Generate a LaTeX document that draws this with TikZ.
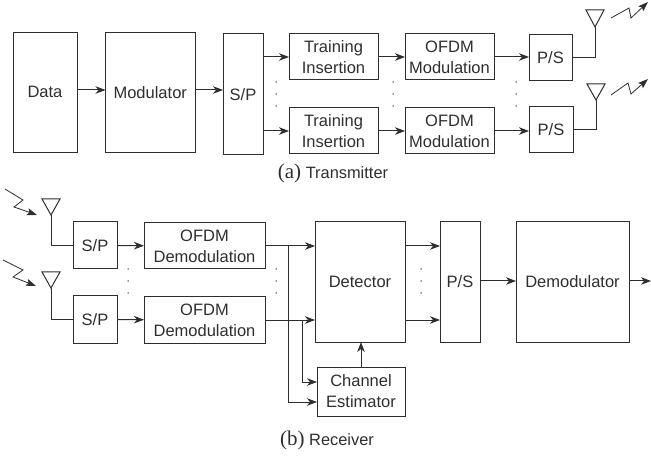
\documentclass[tikz,border=0pt]{standalone}
\usepackage{fontspec}
\setmainfont{Liberation Sans}
\newfontfamily\capserif{Liberation Serif}
\usetikzlibrary{arrows.meta,calc}
\definecolor{ink}{HTML}{2E2E2E}
\newcommand{\bx}[6]{\node[blockbox,minimum width=#4pt-#2pt,minimum height=#5pt-#3pt] (#1) at ({(#2+#4)/2},{(#3+#5)/2}) {#6};}
\tikzset{
  blockbox/.style={draw=ink,line width=1pt,inner sep=0pt,outer sep=0pt,align=center,text=ink,font=\fontsize{16.5}{21}\selectfont},
  conn/.style={draw=ink,line width=1pt,-{Stealth[length=10pt,width=7.5pt,inset=3pt]}},
  wire/.style={draw=ink,line width=1pt},
  antenna/.style={draw=ink,line width=1pt,line join=miter},
  bolt/.style={draw=ink,line width=0.8pt,-{Stealth[length=10pt,width=7pt,inset=2pt]}},
  dotmark/.style={circle,fill=ink,inner sep=0pt,minimum size=1.5pt},
  captext/.style={inner sep=0pt,text=ink,font=\fontsize{16.4}{18}\selectfont}
}
\begin{document}
\begin{tikzpicture}[x=1pt,y=-1pt]
\useasboundingbox (0,0) rectangle (651,457);
% transmitter
\bx{data}{13}{33}{77}{153}{\raisebox{1.5pt}{Data}}
\bx{mod}{105.5}{33}{195}{153}{\raisebox{1.5pt}{Modulator}}
\bx{sps}{223}{34}{263}{155}{S/P}
\bx{tia}{289}{34}{378}{80}{Training\\Insertion}
\bx{tib}{289}{108}{378}{154}{Training\\Insertion}
\bx{oma}{405}{34}{494}{80}{OFDM\\Modulation}
\bx{omb}{405}{108}{494}{154}{OFDM\\Modulation}
\bx{psa}{529}{35}{572}{81}{P/S}
\bx{psb}{529}{107}{573}{153}{P/S}
\coordinate (rowtx) at (0,90);
\draw[conn] (data.east |- rowtx) -- (mod.west |- rowtx);
\draw[conn] (mod.east |- rowtx) -- (sps.west |- rowtx);
\draw[conn] (sps.east |- tia.west) -- (tia.west);
\draw[conn] (sps.east |- tib.west) -- (tib.west);
\draw[conn] (tia) -- (oma);
\draw[conn] (tib) -- (omb);
\draw[conn] (oma) -- (oma -| psa.west);
\draw[conn] (omb) -- (omb -| psb.west);
\coordinate (anta) at (595,27);
\coordinate (antb) at (596,100);
\draw[antenna] (586,10) -- (604,10) -- (anta) -- cycle;
\draw[antenna] (587,84) -- (605,84) -- (antb) -- cycle;
\draw[wire] (anta) |- (psa.east);
\draw[wire] (antb) |- (psb.east);
\draw[bolt] (611,18) -- (629,8) -- (631,18) -- (648,2);
\draw[bolt] (611,95) -- (628,83) -- (631,94) -- (648,79);
\foreach \x in {276,393,516} \foreach \y in {82,94,106} \node[dotmark] at (\x,\y) {};
\node[captext,anchor=center] (capa) at (333,173) {{\capserif\fontsize{21}{22}\selectfont(a)} Transmitter};
% receiver
\bx{spa}{73}{222}{117}{269}{S/P}
\bx{spb}{73}{296}{117}{343}{S/P}
\bx{oda}{144}{223}{265}{269}{OFDM\\Demodulation}
\bx{odb}{144}{297}{265}{343}{OFDM\\Demodulation}
\bx{det}{315}{222}{405}{342}{Detector}
\bx{pos}{440}{222}{480}{342}{P/S}
\bx{dem}{516}{222}{629}{342}{Demodulator}
\bx{che}{317}{367}{405}{416}{Channel\\Estimator}
\coordinate (ra) at (51,215);
\coordinate (rb) at (51,288);
\draw[antenna] (42,199) -- (60,199) -- (ra) -- cycle;
\draw[antenna] (42,272) -- (60,272) -- (rb) -- cycle;
\draw[wire] (ra) |- (spa.west);
\draw[wire] (rb) |- (spb.west);
\draw[bolt] (5,189) -- (23,200) -- (14,207) -- (37,215);
\draw[bolt] (3,260) -- (23,270) -- (13,277) -- (36,286);
\draw[conn] (spa) -- (oda);
\draw[conn] (spb) -- (odb);
\draw[conn] (oda.east) -- (oda.east -| det.west);
\draw[conn] (odb.east) -- (odb.east -| det.west);
\coordinate (bra) at (288,246);
\coordinate (brb) at (302,320);
\draw[conn] (bra) |- (che.west |- 0,402);
\draw[conn] (brb) |- (che.west |- 0,382);
\draw[conn] (che.north) -- (che.north |- det.south);
\draw[conn] (det.east |- oda.east) -- (pos.west |- oda.east);
\draw[conn] (det.east |- odb.east) -- (pos.west |- odb.east);
\coordinate (rowrx) at (0,281);
\draw[conn] (pos.east |- rowrx) -- (dem.west |- rowrx);
\coordinate (out) at (651,281);
\draw[conn] (dem.east |- rowrx) -- (out);
\foreach \x in {128,276,421} \foreach \y in {269,281,293} \node[dotmark] at (\x,\y) {};
\node[captext,anchor=center] (capb) at (327,440) {{\capserif\fontsize{21}{22}\selectfont(b)} Receiver};
\end{tikzpicture}
\end{document}
